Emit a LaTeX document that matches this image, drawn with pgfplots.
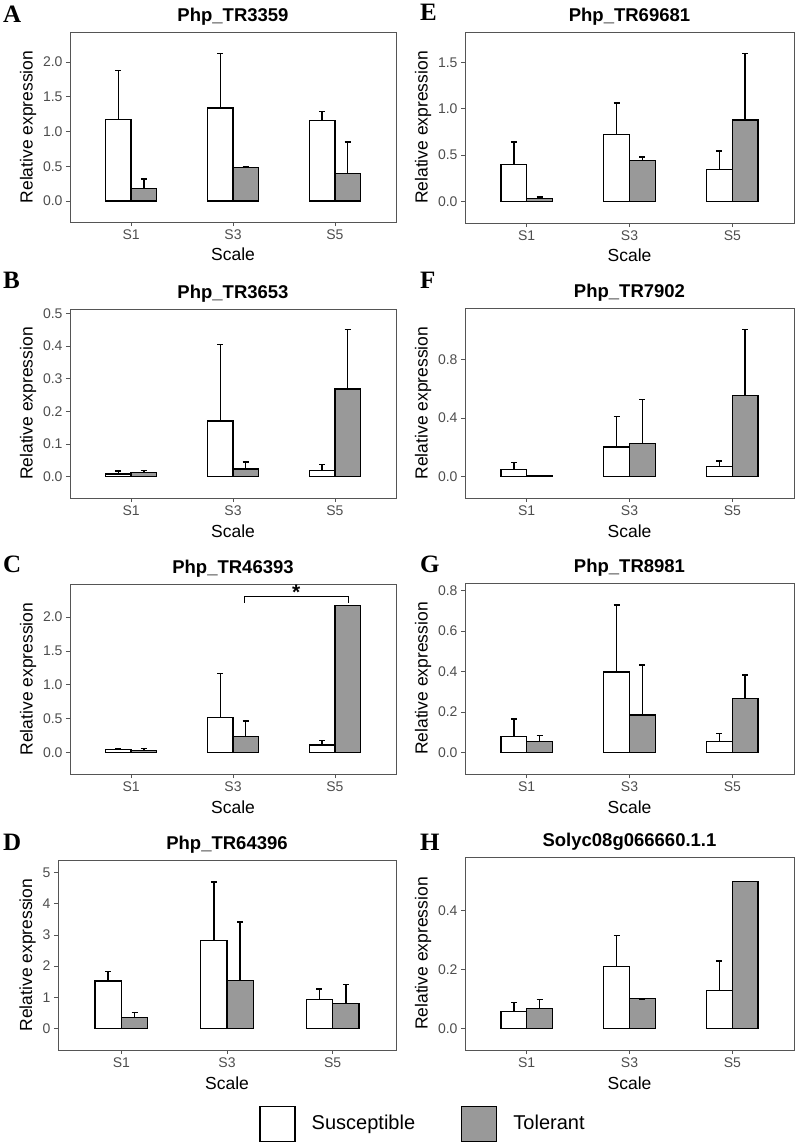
\documentclass[border=0pt]{standalone}
\usepackage{fontspec}
\setmainfont{Liberation Sans}
\newfontfamily\letterfont{Liberation Serif}
\usepackage{pgfplots}
\pgfplotsset{compat=1.18}

\definecolor{frame}{RGB}{85,85,85}
\definecolor{ticklab}{RGB}{77,77,77}
\definecolor{tolfill}{RGB}{153,153,153}

\pgfplotsset{
  panel/.style={
    anchor=north west, scale only axis, clip=false,
    xmin=0.4, xmax=3.6, xtick={1,2,3}, xticklabels={S1,S3,S5},
    tick align=outside, xtick pos=left, ytick pos=left,
    major tick length=4pt,
    every tick/.style={frame, line width=0.6pt},
    axis line style={frame, line width=0.6pt},
    ticklabel style={font=\fontsize{14}{16}\selectfont, text=ticklab},
    xlabel={Scale}, ylabel={Relative expression},
    label style={font=\fontsize{17.5}{20}\selectfont},
    xlabel style={yshift=-2pt},
    title style={font=\bfseries\fontsize{18.5}{22}\selectfont,
                 at={(axis description cs:0.5,1)}, anchor=base,
                 yshift=5pt, inner sep=0pt},
  },
  bars/.style={ybar, bar width=0.25, bar shift=0pt, draw=black,
    line width=1.3pt, forget plot,
    error bars/.cd, y dir=plus, y explicit,
    error bar style={black, line width=1.5pt},
    error mark options={black, rotate=90, line width=1.5pt, mark size=3pt}},
  sus/.style={fill=white, bars},
  tol/.style={fill=tolfill, bars},
}

\newcommand{\plabel}[3]{\node[anchor=base west, inner sep=0pt,
  font=\letterfont\bfseries\fontsize{25}{25}\selectfont] at (#1pt,-#2pt) {#3};}

\begin{document}
\begin{tikzpicture}
\useasboundingbox (0,0) rectangle (796pt,-1144pt);

% A
\begin{axis}[panel, at={(70pt,-32pt)}, width=326pt, height=190pt,
  ymin=-0.30, ymax=2.43, ytick={0,0.5,1,1.5,2},
  yticklabels={0.0,0.5,1.0,1.5,2.0}, title={Php\_TR3359}]
\addplot[sus] coordinates {(0.875,1.17) +- (0,0.71) (1.875,1.34) +- (0,0.78) (2.875,1.16) +- (0,0.13)};
\addplot[tol] coordinates {(1.125,0.18) +- (0,0.14) (2.125,0.48) +- (0,0.01) (3.125,0.40) +- (0,0.45)};
\end{axis}

% B
\begin{axis}[panel, at={(70pt,-309pt)}, width=326pt, height=189pt,
  ymin=-0.066, ymax=0.513, ytick={0,0.1,0.2,0.3,0.4,0.5},
  yticklabels={0.0,0.1,0.2,0.3,0.4,0.5}, title={Php\_TR3653}]
\addplot[sus] coordinates {(0.875,0.008) +- (0,0.009) (1.875,0.170) +- (0,0.235) (2.875,0.019) +- (0,0.018)};
\addplot[tol] coordinates {(1.125,0.012) +- (0,0.006) (2.125,0.023) +- (0,0.022) (3.125,0.268) +- (0,0.182)};
\end{axis}

% C
\begin{axis}[panel, at={(70pt,-584pt)}, width=326pt, height=190pt,
  ymin=-0.32, ymax=2.49, ytick={0,0.5,1,1.5,2},
  yticklabels={0.0,0.5,1.0,1.5,2.0}, title={Php\_TR46393}]
\addplot[sus] coordinates {(0.875,0.044) +- (0,0.004) (1.875,0.517) +- (0,0.648) (2.875,0.108) +- (0,0.064)};
\addplot[tol] coordinates {(1.125,0.028) +- (0,0.03) (2.125,0.236) +- (0,0.227) (3.125,2.17) +- (0,0)};
\addplot[black, line width=0.8pt, forget plot] coordinates {(2.11,2.21) (2.11,2.30) (3.13,2.30) (3.13,2.21)};
\node[font=\bfseries\fontsize{21}{21}\selectfont] at (axis cs:2.62,2.37) {*};
\end{axis}

% D
\begin{axis}[panel, at={(58pt,-860pt)}, width=338pt, height=190pt,
  ymin=-0.69, ymax=5.40, ytick={0,1,2,3,4,5},
  yticklabels={0,1,2,3,4,5}, title={Php\_TR64396},
  legend columns=2,
  legend style={at={(1.077,-0.389)}, anchor=center, draw=none, fill=none,
    font=\fontsize{20}{24}\selectfont, nodes={inner sep=0pt},
    /tikz/column 1/.style={column sep=16pt},
    /tikz/column 2/.style={column sep=46pt},
    /tikz/column 3/.style={column sep=16pt}}]
\addplot[sus] coordinates {(0.875,1.52) +- (0,0.30) (1.875,2.83) +- (0,1.87) (2.875,0.94) +- (0,0.33)};
\addplot[tol] coordinates {(1.125,0.36) +- (0,0.15) (2.125,1.54) +- (0,1.88) (3.125,0.79) +- (0,0.62)};
\addlegendimage{legend image code/.code={\draw[black, line width=1.3pt, fill=white] (0pt,-18pt) rectangle (35pt,17pt);}}
\addlegendentry{Susceptible}
\addlegendimage{legend image code/.code={\draw[black, line width=1.3pt, fill=tolfill] (0pt,-18pt) rectangle (35pt,17pt);}}
\addlegendentry{Tolerant}
\end{axis}

% E
\begin{axis}[panel, at={(465pt,-32pt)}, width=329pt, height=191pt,
  ymin=-0.235, ymax=1.83, ytick={0,0.5,1,1.5},
  yticklabels={0.0,0.5,1.0,1.5}, title={Php\_TR69681}]
\addplot[sus] coordinates {(0.875,0.40) +- (0,0.24) (1.875,0.72) +- (0,0.34) (2.875,0.345) +- (0,0.201)};
\addplot[tol] coordinates {(1.125,0.03) +- (0,0.015) (2.125,0.44) +- (0,0.04) (3.125,0.878) +- (0,0.722)};
\end{axis}

% F
\begin{axis}[panel, at={(465pt,-308pt)}, width=329pt, height=190pt,
  ymin=-0.149, ymax=1.154, ytick={0,0.4,0.8},
  yticklabels={0.0,0.4,0.8}, title={Php\_TR7902}]
\addplot[sus] coordinates {(0.875,0.048) +- (0,0.048) (1.875,0.201) +- (0,0.208) (2.875,0.069) +- (0,0.036)};
\addplot[tol] coordinates {(1.125,0.005) +- (0,0.002) (2.125,0.226) +- (0,0.302) (3.125,0.555) +- (0,0.453)};
\end{axis}

% G
\begin{axis}[panel, at={(465pt,-583pt)}, width=329pt, height=191pt,
  ymin=-0.107, ymax=0.838, ytick={0,0.2,0.4,0.6,0.8},
  yticklabels={0.0,0.2,0.4,0.6,0.8}, title={Php\_TR8981}]
\addplot[sus] coordinates {(0.875,0.079) +- (0,0.086) (1.875,0.398) +- (0,0.33) (2.875,0.054) +- (0,0.04)};
\addplot[tol] coordinates {(1.125,0.054) +- (0,0.029) (2.125,0.185) +- (0,0.247) (3.125,0.266) +- (0,0.118)};
\end{axis}

% H
\begin{axis}[panel, at={(465pt,-857pt)}, width=329pt, height=193pt,
  ymin=-0.074, ymax=0.582, ytick={0,0.2,0.4},
  yticklabels={0.0,0.2,0.4}, title={Solyc08g066660.1.1}]
\addplot[sus] coordinates {(0.875,0.058) +- (0,0.029) (1.875,0.211) +- (0,0.104) (2.875,0.128) +- (0,0.10)};
\addplot[tol] coordinates {(1.125,0.068) +- (0,0.029) (2.125,0.100) +- (0,0) (3.125,0.499) +- (0,0)};
\end{axis}

\plabel{3}{22}{A}
\plabel{3}{288}{B}
\plabel{3}{572}{C}
\plabel{3}{850}{D}
\plabel{420}{20}{E}
\plabel{420}{288}{F}
\plabel{420}{572}{G}
\plabel{420}{850}{H}
\end{tikzpicture}
\end{document}
